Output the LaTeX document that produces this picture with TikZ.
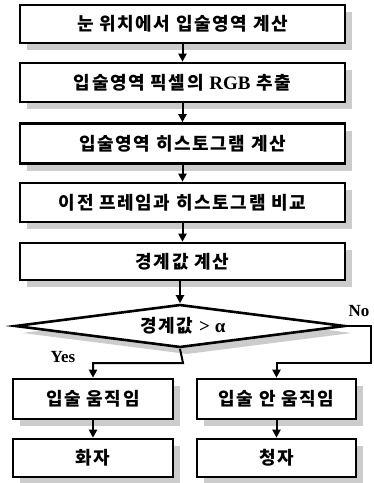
\documentclass[tikz,border=0pt]{standalone}
\usepackage{fontspec}
\setmainfont{Liberation Serif}
\newfontfamily\kr{Noto Sans CJK KR}[LetterSpace=9]
\usetikzlibrary{arrows.meta,shapes.geometric,shadows}
\newcommand{\lat}{\normalfont\bfseries\fontsize{19}{20}\selectfont}
\begin{document}
\begin{tikzpicture}[x=1pt,y=-1pt,
  shad/.style={drop shadow={shadow xshift=7pt,shadow yshift=-7pt,fill=gray!40,opacity=1}},
  stepbox/.style={draw,line width=2.6pt,fill=white,shad,minimum width=325pt,minimum height=38pt,inner sep=0pt,font=\kr\bfseries\fontsize{18}{20}\selectfont},
  smallbox/.style={stepbox,minimum width=159pt},
  decbox/.style={draw,line width=2.6pt,diamond,fill=white,shad,minimum width=330pt,minimum height=43pt,inner sep=0pt,aspect=7.6,font=\kr\bfseries\fontsize{18}{20}\selectfont},
  arr/.style={line width=2pt,-{Triangle[length=8pt,width=8pt]}},
  lbl/.style={font=\bfseries\fontsize{17}{18}\selectfont,inner sep=0pt}]
\useasboundingbox (0,0) rectangle (373,483);
\node[stepbox] (b1) at (182.5,24) {눈 위치에서 입술영역 계산};
\node[stepbox,minimum height=39pt] (b2) at (182.5,82.5) {입술영역 픽셀의 {\lat RGB} 추출};
\node[stepbox,minimum height=40pt] (b3) at (182.5,143.5) {입술영역 히스토그램 계산};
\node[stepbox,minimum height=39pt] (b4) at (182.5,202.5) {이전 프레임과 히스토그램 비교};
\node[stepbox,minimum height=37pt] (b5) at (182.5,261.5) {경계값 계산};
\node[decbox] (d) at (180,326) {\hspace*{6pt}경계값 {\lat > α}};
\node[smallbox,minimum width=160pt,minimum height=40pt] (b6) at (93,399) {입술 움직임};
\node[smallbox,minimum height=40pt] (b7) at (276.5,399) {입술 안 움직임};
\node[smallbox,minimum width=160pt] (b8) at (93,458) {화자};
\node[smallbox] (b9) at (276.5,458) {청자};
\coordinate (ya) at (183,363);
\coordinate (nb) at (371,363);
\node[lbl] (yes) at (63,357) {Yes};
\node[lbl] (no) at (359,311) {No};
\draw[arr] (b1) -- (b2);
\draw[arr] (b2) -- (b3);
\draw[arr] (b3) -- (b4);
\draw[arr] (b4) -- (b5);
\draw[arr] (b5.south -| d.north) -- (d.north);
\draw[arr] (d.south) -- (ya) -| (b6.north);
\draw[arr] (d.east) -| (nb) -| (b7.north);
\draw[arr] (b6) -- (b8);
\draw[arr] (b7) -- (b9);
\end{tikzpicture}
\end{document}
